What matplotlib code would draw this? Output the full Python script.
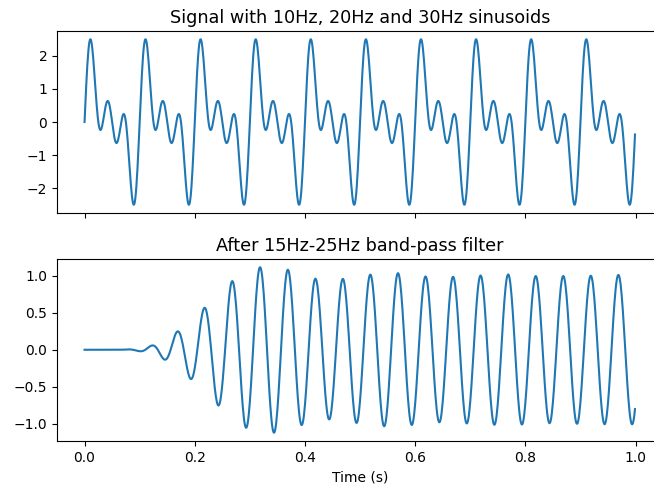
import numpy as np
import matplotlib
matplotlib.use("Agg")
import matplotlib.pyplot as plt

# signal description
fs = 1000                      # samples per second
duration = 1.0                 # seconds
tone_freqs = [10, 20, 30]      # Hz, summed sinusoids
band = [15, 25]                # Hz, band-pass edges
filter_order = 10

titles = ["Signal with 10Hz, 20Hz and 30Hz sinusoids",
          "After 15Hz-25Hz band-pass filter"]
xlabel = "Time (s)"


def butter_bandpass_sections(order, low, high, fs):
    # analog prototype -> band-pass -> bilinear, as second-order sections
    fs2 = 2.0 * fs
    wl = fs2 * np.tan(np.pi * low / fs)
    wh = fs2 * np.tan(np.pi * high / fs)
    bw = wh - wl
    w0 = np.sqrt(wl * wh)
    k = np.arange(1, order + 1)
    p_lp = np.exp(1j * np.pi * (2 * k + order - 1) / (2 * order))
    a = p_lp * bw / 2
    d = np.sqrt(a ** 2 - w0 ** 2)
    p_bp = np.concatenate([a + d, a - d])
    gain = np.real(bw ** order * fs2 ** order / np.prod(fs2 - p_bp))
    p_z = (fs2 + p_bp) / (fs2 - p_bp)
    upper = p_z[p_z.imag > 0]
    sections = []
    for i, p in enumerate(upper):
        b = np.array([1.0, 0.0, -1.0])
        if i == 0:
            b = b * gain
        den = np.array([1.0, -2 * p.real, abs(p) ** 2])
        sections.append((b, den))
    return sections


def run_sections(sections, x):
    y = np.asarray(x, dtype=float)
    for b, a in sections:
        out = np.empty_like(y)
        z1 = z2 = 0.0
        for n, xn in enumerate(y):
            yn = b[0] * xn + z1
            z1 = b[1] * xn - a[1] * yn + z2
            z2 = b[2] * xn - a[2] * yn
            out[n] = yn
        y = out
    return y


t = np.linspace(0, duration, int(fs * duration), False)
sig = sum(np.sin(2 * np.pi * f * t) for f in tone_freqs)
filtered = run_sections(butter_bandpass_sections(filter_order, band[0], band[1], fs), sig)

fig, (ax1, ax2) = plt.subplots(2, 1, sharex=True, figsize=(6.54, 4.9), dpi=100)
ax1.plot(t, sig)
ax1.set_title(titles[0], fontsize=12.7)
ax2.plot(t, filtered)
ax2.set_title(titles[1], fontsize=12.7)
ax2.set_xlabel(xlabel)

# the reference is cropped on the right, so the axes run past the edge
ax1.set_position([0.0872, 0.5653, 0.9258, 0.3714])
ax2.set_position([0.0872, 0.1000, 0.9258, 0.3714])

plt.savefig("out.png")
